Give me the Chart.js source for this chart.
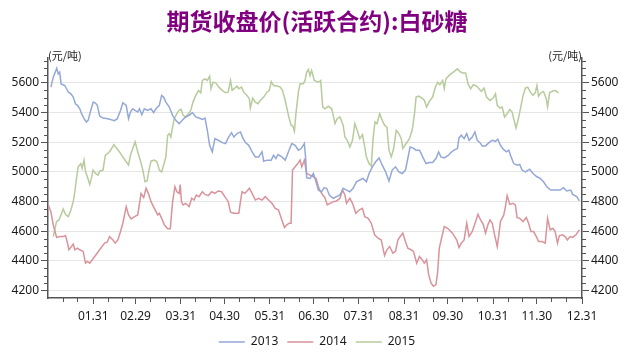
<!DOCTYPE html>
<html>
<head>
<meta charset="utf-8">
<script src="https://cdn.jsdelivr.net/npm/chart.js@4/dist/chart.umd.min.js"></script>
<style>
  body { margin: 0; background: #fff; }
  #wrap { width: 634px; height: 352px; }
</style>
</head>
<body>
<div id="wrap"><canvas id="myChart"></canvas></div>
<script>
// series: day of year -> closing price
const days2013 = [2,3.6,6,7,8,9,11.5,12.7,14,15.7,17.3,18.8,20.2,21.8,23,24.7,26.3,27.5,29.3,31,32.5,33.8,35.4,37.7,41,45.6,47.5,49.7,51.3,53.6,55.2,56.5,58,59.7,61.5,62.7,64.3,66,68.3,70.6,72.4,74,76.3,77.9,79.2,80.8,83.1,85.4,87.6,89.9,92.2,94.4,96.7,99,101.3,103.5,105.8,107.6,109.2,110.8,112.6,114.4,116.7,119.4,121.7,123.5,125.8,127.4,129.6,131.9,133.5,135.3,137.6,139.9,142.1,144.4,146.7,147.8,150.1,153,154.6,156.2,157.6,160.3,162.6,164.8,167.1,169.4,171.6,173.5,175.7,176.6,177.3,179.6,181.9,183.7,185.3,187.6,189.2,191,192.8,195.5,197.8,200.1,202.3,204.6,206.9,209.1,211.4,213.7,215.9,218.2,220.1,222.3,224.6,226.9,229.1,231.4,233.7,235.9,238.2,240.5,242.8,245,246.6,248.2,250,252.3,254.6,256.8,259.1,261.4,263.6,265.9,267.7,269.3,271.6,274.5,276.1,278.3,280.6,281.7,283.3,285.2,287,288.6,290.8,292.6,294.2,296.1,297.6,299.9,302.2,304.5,306.7,308.3,310.1,312,314.2,315.8,317.4,319.2,321.5,323.3,324.9,327.2,330.1,332.4,335.1,337.4,339.6,341.9,344.6,347.6,351,353.3,355.5,358.3,359.6,362.4,364.2];
const price2013 = [5571,5638,5698,5660,5672,5593,5582,5560,5537,5526,5504,5459,5448,5425,5392,5358,5336,5347,5414,5470,5464,5448,5376,5363,5358,5345,5358,5414,5466,5448,5358,5403,5425,5414,5403,5425,5385,5425,5414,5425,5399,5425,5448,5515,5504,5470,5437,5381,5347,5325,5350,5370,5381,5399,5370,5363,5354,5363,5280,5179,5135,5224,5213,5197,5191,5229,5264,5235,5258,5269,5229,5197,5179,5135,5101,5101,5135,5072,5079,5079,5112,5090,5117,5101,5079,5135,5191,5179,5146,5157,5191,5090,4960,4956,4989,4933,4877,4866,4893,4889,4844,4822,4833,4844,4889,4877,4866,4889,4933,4945,4956,4933,4989,5034,5068,5094,5045,5000,4938,5012,5034,5000,4989,5012,5090,5168,5162,5146,5146,5101,5056,5063,5063,5090,5135,5101,5094,5112,5130,5146,5157,5229,5247,5224,5258,5213,5235,5269,5213,5197,5175,5175,5197,5213,5206,5220,5179,5153,5135,5146,5101,5056,5045,5050,5012,5000,5018,4989,4967,4956,4933,4900,4877,4877,4877,4893,4871,4877,4848,4833,4804];

const days2014 = [0.2,2,3.6,5.9,8.2,10.4,12,13.4,14.3,16.1,17.3,18.4,20.2,21.8,24.1,25.7,27,28.6,32,35.4,38.8,40.6,42.2,44.5,46.1,47.9,49.7,51.3,53.6,55.2,57,59.3,61.5,63.8,65.6,67.2,68.8,70.6,72.9,75.2,76.3,77.9,79.7,82,83.8,85.4,87,88.3,89.9,90.6,91.5,92.6,94.4,96.7,98.5,100.1,101.7,103.5,105.8,107.6,109.9,112.2,114.4,116.7,119,121.2,123.5,125.1,127.4,130.8,131.9,133,134.9,136.4,138,139.9,142.1,144.4,146.7,148.9,151.2,153.5,155.7,158,160.3,162.1,163.7,165.3,166.6,167.6,169.4,171.2,172.8,173.9,175.7,177.3,179.6,181.9,183.7,185.3,186.9,188.3,189.8,191.4,193.3,195.5,197.8,200.1,201.9,203.5,204.6,206.9,208.7,211,213.2,215.5,217.1,219.4,221.6,223.9,226.2,228.4,229.6,230.7,232.3,234.1,236.4,238.2,239.8,241.4,243.2,245,246.6,248.9,250.5,252.7,254.6,256.4,257.9,259.5,260.9,262.5,264.1,265.9,267,268.2,270,271.6,273.9,277.2,280.2,281.7,283.3,285.2,287,288.6,290.8,293.1,294.7,296.5,298.3,299.9,301.5,302.9,304.5,306.1,307.9,309,310.1,312.4,313.5,314.7,316.5,318.8,320.3,321.5,323.3,325.6,327.8,329.4,331,332.8,334.7,336.2,338.5,340.8,342.4,344.2,346,347.6,349.2,350.5,352.8,354.4,356,357.8,359.6,361.9,364.2];
const price2014 = [4777,4732,4643,4558,4564,4564,4571,4520,4475,4497,4513,4475,4486,4475,4464,4385,4396,4385,4430,4475,4520,4526,4564,4541,4520,4541,4598,4654,4766,4710,4683,4698,4710,4855,4826,4889,4855,4799,4754,4710,4721,4687,4643,4616,4616,4799,4900,4866,4855,4915,4799,4777,4788,4766,4822,4810,4844,4833,4866,4848,4840,4866,4855,4871,4866,4833,4799,4728,4721,4721,4799,4866,4855,4871,4889,4855,4810,4822,4810,4833,4810,4788,4754,4743,4676,4625,4643,4654,4654,5012,5034,5056,5079,5034,5079,4989,4978,4967,4956,4900,4866,4844,4826,4777,4788,4799,4804,4822,4877,4844,4788,4822,4788,4721,4743,4754,4698,4687,4654,4576,4553,4541,4486,4437,4475,4497,4452,4464,4541,4564,4587,4531,4486,4475,4464,4385,4430,4408,4385,4408,4307,4251,4229,4240,4318,4486,4564,4631,4620,4587,4541,4490,4520,4541,4654,4564,4598,4665,4714,4676,4647,4587,4643,4676,4654,4576,4497,4576,4665,4710,4766,4840,4781,4788,4777,4692,4687,4665,4692,4654,4598,4598,4564,4531,4531,4520,4687,4609,4620,4598,4520,4571,4576,4564,4541,4564,4558,4576,4609];

const days2015 = [3.6,4.8,5.9,7.5,8.9,10.4,12,13.9,15.7,17.3,18.4,19.5,20.7,22.5,23.4,24.7,25.7,27,28.6,29.7,30.9,32.5,34.3,35.4,37.7,39.3,41.1,42.9,45.2,46.8,49,51.3,53.6,55.2,56.5,58.1,59.7,61.5,63.4,65,66.5,67.9,69.5,70.6,72.9,74.7,76.3,77.9,79.2,80.8,82,83.1,84.2,85.4,86.5,88.3,89.9,91.2,92.6,94.4,96.3,97.8,99.4,101.3,103.1,104.7,105.8,107.6,109.2,110.8,111.7,113.1,114.9,117.1,119.4,121.7,123.5,125.1,126.2,128,129.6,130.8,132.6,134.2,136.4,138,138.7,140.3,142.1,143.9,145.5,147.8,150.1,151.7,153,154.6,156.9,159.2,160.7,162.6,164.8,166.6,167.8,168.9,169.8,171.6,172.8,175,176.2,177.3,178.5,179.6,180.7,182.5,185.3,186.9,188.3,189.8,192.1,194.4,195.5,196.7,198.2,200.1,202.3,203.5,205.1,206.9,208.7,210.3,211.9,213.7,215.5,217.1,218.2,220,221.6,222.8,224.1,225.5,227.3,229.1,230.7,232.3,233.7,235.3,236.9,238.7,240.5,242.1,243.2,245.5,247.7,249.6,251.2,252.3,254.1,256.4,258,259.5,261.4,263.6,265.5,267.1,268.6,270.5,271.6,272.7,274.5,276.1,278.3,280.6,282.4,284,286.3,287.9,289.7,291.5,293.8,295.4,297,298.8,300.6,302.9,305.1,306.7,307.9,309.7,311.3,312.9,314.7,316.5,318.1,319.2,320.8,321.9,323.8,325.6,327.2,328.8,330.6,332.4,334,335.1,336.2,337.8,339.6,341.5,342.4,343.8,345.3,347.6,349.9];
const price2015 = [4564,4620,4665,4676,4710,4750,4714,4698,4743,4799,4866,4956,5034,5056,5023,5079,5000,4967,4915,4956,5012,4989,4978,5005,5012,5112,5124,5146,5184,5162,5135,5101,5068,5045,5112,5157,5202,5135,5072,5012,4933,4938,5023,5072,5079,5068,5012,5000,5045,5101,5247,5258,5235,5302,5358,5392,5414,5421,5381,5370,5392,5414,5470,5515,5549,5533,5616,5627,5616,5645,5560,5604,5600,5571,5549,5533,5537,5616,5549,5564,5578,5560,5571,5537,5515,5493,5430,5497,5470,5459,5481,5504,5537,5549,5609,5582,5578,5571,5549,5481,5381,5314,5309,5273,5381,5537,5593,5593,5616,5672,5690,5649,5683,5616,5604,5616,5437,5425,5443,5425,5381,5325,5358,5370,5314,5235,5213,5168,5213,5325,5280,5224,5251,5168,5101,5056,5041,5224,5336,5325,5392,5347,5314,5302,5146,5101,5157,5280,5258,5224,5157,5191,5224,5280,5392,5504,5510,5497,5481,5437,5475,5504,5571,5604,5587,5616,5560,5627,5645,5660,5676,5694,5676,5667,5667,5593,5560,5587,5578,5560,5542,5564,5504,5481,5497,5526,5448,5430,5437,5370,5392,5421,5403,5358,5296,5336,5425,5515,5564,5571,5537,5515,5533,5582,5510,5533,5542,5493,5437,5533,5542,5549,5533];

// axis ticks
const monthEnds = [31, 60, 91, 121, 152, 182, 213, 244, 274, 305, 335, 366];
const monthLabels = ['01.31', '02.29', '03.31', '04.30', '05.31', '06.30', '07.31', '08.31', '09.30', '10.31', '11.30', '12.31'];
const priceTicks = [4200, 4400, 4600, 4800, 5000, 5200, 5400, 5600];

const axisColor = '#555';
const textColor = '#1a1a1a';

const toPoints = (xs, ys) => xs.map((x, i) => ({ x: x, y: ys[i] }));

// small ticks between the labelled ones + unit labels
const minorTicks = {
  id: 'minorTicks',
  afterDraw(chart) {
    const { ctx, chartArea, scales } = chart;
    ctx.save();
    ctx.strokeStyle = axisColor;
    ctx.lineWidth = 1;
    ctx.beginPath();
    for (let v = 4200; v <= 5750; v += 50) {
      if (v % 200 === 0) continue;
      const y = Math.round(scales.y.getPixelForValue(v)) + 0.5;
      ctx.moveTo(chartArea.left - 4, y);
      ctx.lineTo(chartArea.left, y);
      ctx.moveTo(chartArea.right, y);
      ctx.lineTo(chartArea.right + 4, y);
    }
    const starts = [0].concat(monthEnds.slice(0, -1));
    starts.forEach((s) => {
      [10, 20].forEach((off) => {
        const x = Math.round(scales.x.getPixelForValue(s + off)) + 0.5;
        ctx.moveTo(x, chartArea.bottom);
        ctx.lineTo(x, chartArea.bottom + 4);
      });
    });
    ctx.stroke();

    ctx.fillStyle = textColor;
    ctx.font = '11px "Noto Sans CJK SC"';
    ctx.textBaseline = 'middle';
    ctx.textAlign = 'left';
    ctx.fillText('(元/吨)', chartArea.left, chartArea.top - 2);
    ctx.textAlign = 'right';
    ctx.fillText('(元/吨)', chartArea.right, chartArea.top - 2);
    ctx.restore();
  },
};

const yAxis = (pos, onArea, width) => ({
  type: 'linear',
  position: pos,
  min: 4150,
  max: 5770,
  afterBuildTicks: (axis) => {
    axis.ticks = priceTicks.map((v) => ({ value: v }));
  },
  afterFit: (axis) => {
    axis.width = width;
  },
  grid: {
    drawOnChartArea: onArea,
    color: '#e6e6e6',
    tickColor: axisColor,
    tickLength: 7,
  },
  border: { color: axisColor, width: 1.5 },
  ticks: {
    padding: 2,
    color: textColor,
    font: { family: 'Noto Sans', size: 12 },
    callback: (v) => String(v),
  },
});

const data = {
  datasets: [
    {
      label: '2013',
      data: toPoints(days2013, price2013),
      borderColor: '#94a8d8',
      backgroundColor: '#94a8d8',
    },
    {
      label: '2014',
      data: toPoints(days2014, price2014),
      borderColor: '#d8939b',
      backgroundColor: '#d8939b',
    },
    {
      label: '2015',
      data: toPoints(days2015, price2015),
      borderColor: '#b7cb9c',
      backgroundColor: '#b7cb9c',
    },
  ],
};

const config = {
  type: 'line',
  data: data,
  plugins: [minorTicks],
  options: {
    responsive: true,
    maintainAspectRatio: false,
    animation: false,
    devicePixelRatio: 1,
    elements: {
      line: { borderWidth: 1.5, tension: 0 },
      point: { radius: 0 },
    },
    layout: { padding: 0 },
    scales: {
      x: {
        type: 'linear',
        min: 0,
        max: 366,
        afterBuildTicks: (axis) => {
          axis.ticks = monthEnds.map((v) => ({ value: v }));
        },
        afterFit: (axis) => {
          axis.height = 29;
        },
        grid: { drawOnChartArea: false, tickColor: axisColor, tickLength: 6 },
        border: { color: axisColor, width: 1.5 },
        ticks: {
          padding: 5,
          maxRotation: 0,
          autoSkip: false,
          color: textColor,
          font: { family: 'Noto Sans', size: 12 },
          callback: (v) => monthLabels[monthEnds.indexOf(v)],
        },
      },
      y: yAxis('left', true, 48),
      y2: yAxis('right', false, 52),
    },
    plugins: {
      title: {
        display: true,
        text: '期货收盘价(活跃合约):白砂糖',
        color: '#800080',
        font: { family: 'Noto Sans CJK SC', size: 23, weight: 'bold' },
        padding: { top: 7, bottom: 23 },
      },
      legend: {
        position: 'bottom',
        maxHeight: 25,
        labels: {
          boxWidth: 26,
          boxHeight: 0,
          padding: 9,
          color: textColor,
          font: { family: 'Noto Sans', size: 12 },
        },
      },
      tooltip: { enabled: false },
    },
  },
};

const ctx = document.getElementById('myChart');
const myChart = new Chart(ctx, config);
</script>
</body>
</html>
